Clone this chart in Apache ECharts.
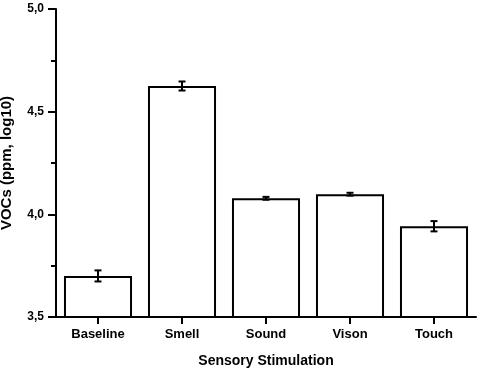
<!DOCTYPE html>
<html>
<head>
<meta charset="utf-8">
<script src="https://cdn.jsdelivr.net/npm/echarts@6/dist/echarts.min.js"></script>
<style>
html,body{margin:0;padding:0;background:#fff;}
#chart{width:480px;height:373px;}
</style>
</head>
<body>
<div id="chart"></div>
<script>
var categories = ['Baseline', 'Smell', 'Sound', 'Vison', 'Touch'];
var means = [3.70, 4.625, 4.078, 4.098, 3.942];
var errors = [0.027, 0.022, 0.007, 0.007, 0.025];
var yTicks = [3.5, 4.0, 4.5, 5.0];

var FONT = '"Liberation Sans", Arial, sans-serif';
var chart = echarts.init(document.getElementById('chart'), null, {renderer: 'canvas'});

var errData = categories.map(function (c, i) { return [i, means[i] - errors[i], means[i] + errors[i]]; });
var TICK_LEN = 7;

chart.setOption({
  animation: false,
  backgroundColor: '#fff',
  grid: {left: 56, right: 4, top: 9, bottom: 56, containLabel: false, outerBoundsMode: 'none'},
  xAxis: {
    type: 'category',
    data: categories,
    z: 10,
    axisLine: {show: true, onZero: false, lineStyle: {color: '#000', width: 2}},
    axisTick: {show: true, inside: false, alignWithLabel: true, interval: 0, length: TICK_LEN, lineStyle: {color: '#000', width: 2}},
    axisLabel: {color: '#000', fontWeight: 'bold', fontSize: 13, fontFamily: FONT, margin: 11},
    name: 'Sensory Stimulation',
    nameLocation: 'middle',
    nameGap: 37,
    nameTextStyle: {color: '#000', fontWeight: 'bold', fontSize: 14, fontFamily: FONT}
  },
  yAxis: {
    type: 'value',
    min: yTicks[0],
    max: yTicks[yTicks.length - 1],
    interval: 0.5,
    z: 10,
    axisLine: {show: true, lineStyle: {color: '#000', width: 2}},
    axisTick: {show: true, length: 8, lineStyle: {color: '#000', width: 2}},
    minorTick: {show: true, splitNumber: 2, length: 5, lineStyle: {color: '#000', width: 2}},
    splitLine: {show: false},
    axisLabel: {
      color: '#000', fontWeight: 'bold', fontSize: 12, fontFamily: FONT, margin: 12,
      formatter: function (v) { return v.toFixed(1).replace('.', ','); }
    },
    name: 'VOCs (ppm, log10)',
    nameLocation: 'middle',
    nameGap: 42,
    nameTextStyle: {color: '#000', fontWeight: 'bold', fontSize: 15, fontFamily: FONT}
  },
  series: [
    {
      type: 'bar',
      data: means,
      barCategoryGap: '19%',
      itemStyle: {color: '#fff', borderColor: '#000', borderWidth: 2},
      z: 2
    },
    {
      type: 'custom',
      data: errData,
      z: 3,
      clip: false,
      renderItem: function (params, api) {
        var x = api.value(0);
        var lo = api.coord([x, api.value(1)]);
        var hi = api.coord([x, api.value(2)]);
        var base = api.coord([x, yTicks[0]]);
        var hw = 3.5;
        var st = {stroke: '#000', lineWidth: 2};
        return {
          type: 'group',
          children: [
            {type: 'line', shape: {x1: lo[0], y1: lo[1], x2: hi[0], y2: hi[1]}, style: st},
            {type: 'line', shape: {x1: lo[0] - hw, y1: lo[1], x2: lo[0] + hw, y2: lo[1]}, style: st},
            {type: 'line', shape: {x1: hi[0] - hw, y1: hi[1], x2: hi[0] + hw, y2: hi[1]}, style: st},
            {type: 'line', shape: {x1: base[0], y1: base[1], x2: base[0], y2: base[1] + TICK_LEN}, style: st}
          ]
        };
      }
    }
  ]
});
</script>
</body>
</html>
